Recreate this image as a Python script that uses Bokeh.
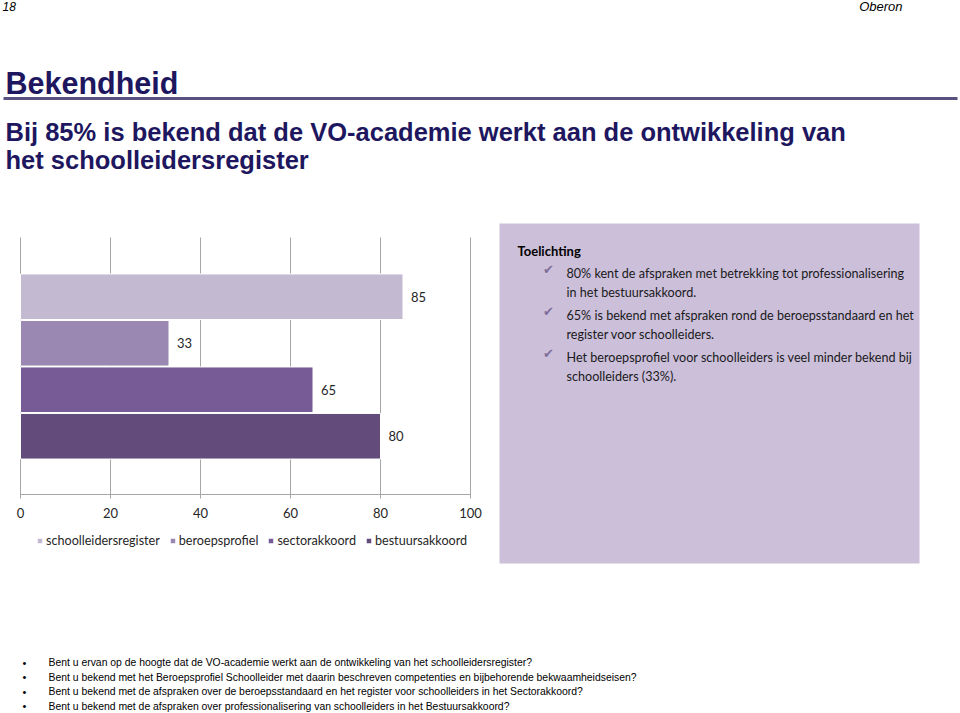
from bokeh.plotting import figure
from bokeh.models import Range1d, ColumnDataSource
from bokeh.core.properties import value
from bokeh.embed import file_html
from bokeh.resources import INLINE

# ---------------- data ----------------
categories = ["schoolleidersregister", "beroepsprofiel", "sectorakkoord", "bestuursakkoord"]
values = [85, 33, 65, 80]
ticks = [0, 20, 40, 60, 80, 100]
tick_labels = ["0", "20", "40", "60", "80", "100"]

page_number = "18"
company = "Oberon"
heading = "Bekendheid"
subtitle_lines = ["Bij 85% is bekend dat de VO-academie werkt aan de ontwikkeling van",
                  "het schoolleidersregister"]
note_title = "Toelichting"
note_lines = [["80% kent de afspraken met betrekking tot professionalisering", "in het bestuursakkoord."],
              ["65% is bekend met afspraken rond de beroepsstandaard en het", "register voor schoolleiders."],
              ["Het beroepsprofiel voor schoolleiders is veel minder bekend bij", "schoolleiders (33%)."]]
questions = [
    "Bent u ervan op de hoogte dat de VO-academie werkt aan de ontwikkeling van het schoolleidersregister?",
    "Bent u bekend met het Beroepsprofiel Schoolleider met daarin beschreven competenties en bijbehorende bekwaamheidseisen?",
    "Bent u bekend met de afspraken over de beroepsstandaard en het register voor schoolleiders in het Sectorakkoord?",
    "Bent u bekend met de afspraken over professionalisering van schoolleiders in het Bestuursakkoord?",
]

# ---------------- styles / layout ----------------
bar_colors = ["#C3B9D1", "#9A88B2", "#775B97", "#634C7C"]
W, H = 960, 713
X0, PX_PER_UNIT = 20, 4.5          # chart: value 0 at x=20 px, 4.5 px per unit
BAR_TOP, BAR_SLOT = 273, 46.5      # chart: top of first bar, slot height

p = figure(width=W, height=H, x_range=Range1d(0, W), y_range=Range1d(H, 0),
           x_axis_type=None, y_axis_type=None, min_border=0,
           toolbar_location=None, output_backend="svg")
p.grid.visible = False
p.outline_line_color = None
p.background_fill_color = "white"
p.border_fill_color = "white"

p.extra_x_ranges = {"pct": Range1d(-X0 / PX_PER_UNIT, (W - X0) / PX_PER_UNIT)}
p.extra_y_ranges = {"row": Range1d((H - BAR_TOP) / BAR_SLOT, (0 - BAR_TOP) / BAR_SLOT)}

def txt(x, y, s, size, font="Liberation Sans", color="#000000", style="normal",
        align="left", baseline="middle"):
    p.text(x=[x], y=[y], text=[s], text_font=value(font), text_font_size=size,
           text_color=color, text_font_style=style, text_align=align,
           text_baseline=baseline)

# header
txt(2, 6, page_number, "12px", style="italic")
txt(902, 6, company, "13px", style="italic", align="right")

# heading + rule
txt(5, 82, heading, "30.5px", color="#1E1760", style="bold")
p.segment(x0=[3], y0=[98], x1=[957], y1=[98], line_color="#57527E", line_width=3)
txt(5, 131, subtitle_lines[0], "25.5px", color="#1E1760", style="bold")
txt(5, 159, subtitle_lines[1], "25.5px", color="#1E1760", style="bold")

# explanation box
p.quad(left=[499], right=[919], top=[223], bottom=[563], fill_color="#CCBFDA", line_color=None)
txt(517, 250, note_title, "13px", font="Lato", style="bold")
for i, lines in enumerate(note_lines):
    y = 273 + i * 42
    p.text(x=[548], y=[y - 4], text=["\u2714"], text_font=value("DejaVu Sans"),
           text_font_size="13px", text_color="#7F6F9C", text_align="center",
           text_baseline="middle")
    txt(566, y, lines[0], "12.6px", font="Lato", color="#1A1A1A")
    txt(566, y + 19, lines[1], "12.6px", font="Lato", color="#1A1A1A")

# chart gridlines / axis
p.segment(x0=ticks, x1=ticks, y0=[237] * len(ticks), y1=[498] * len(ticks),
          x_range_name="pct", line_color="#A6A6A6", line_width=1)
p.segment(x0=[ticks[0]], x1=[ticks[-1]], y0=[494], y1=[494],
          x_range_name="pct", line_color="#A6A6A6", line_width=1)
p.text(x=ticks, y=[512] * len(ticks), text=tick_labels, x_range_name="pct",
       text_font=value("Lato"), text_font_size="13px", text_color="#262626",
       text_align="center", text_baseline="middle")

# bars
rows = [i + 0.5 for i in range(len(values))]
src = ColumnDataSource(dict(cat=categories, val=values, row=rows, color=bar_colors,
                            lab=[str(v) for v in values]))
p.hbar(y="row", left=0, right="val", height=0.98, fill_color="color",
       line_color="white", line_width=1, source=src,
       x_range_name="pct", y_range_name="row", legend_field="cat")
p.text(x="val", y="row", text="lab", source=src, x_offset=8,
       x_range_name="pct", y_range_name="row",
       text_font=value("Lato"), text_font_size="13px", text_color="#262626",
       text_align="left", text_baseline="middle")

lg = p.legend[0]
lg.orientation = "horizontal"
lg.location = (36, H - 541 - 7)
lg.padding = 0
lg.margin = 0
lg.spacing = 9
lg.glyph_width = 7
lg.glyph_height = 7
lg.label_standoff = 3
lg.label_height = 14
lg.label_text_font = "Lato"
lg.label_text_font_size = "12.6px"
lg.label_text_color = "#262626"
lg.background_fill_alpha = 0
lg.border_line_color = None

# questions
for i, q in enumerate(questions):
    y = 662 + i * 14.6
    txt(22, y, "\u2022", "11px", font="Liberation Sans")
    txt(48, y, q, "10.4px", font="Liberation Sans")

open("out.html", "w").write(file_html(p, INLINE))
